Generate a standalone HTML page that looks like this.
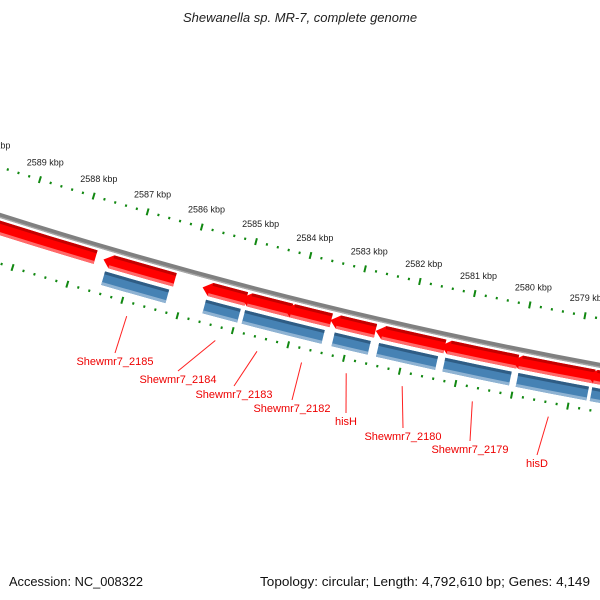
<!DOCTYPE html>
<html><head><meta charset="utf-8"><style>
html,body{margin:0;padding:0;background:#fff;}
svg{display:block;font-family:"Liberation Sans","DejaVu Sans",sans-serif;}
</style></head><body>
<svg id="chart" width="600" height="600" viewBox="0 0 600 600" xmlns="http://www.w3.org/2000/svg">
<text x="300" y="22" text-anchor="middle" font-size="13" font-style="italic" fill="#222">Shewanella sp. MR-7, complete genome</text>
<g id="ticks"></g>
<g id="backbone"></g>
<g id="red"></g>
<g id="blue"></g>
<g id="labels"></g>
<text x="9" y="586" font-size="13" fill="#111" textLength="134" lengthAdjust="spacingAndGlyphs">Accession: NC_008322</text>
<text x="590" y="586" text-anchor="end" font-size="13" fill="#111" textLength="330" lengthAdjust="spacingAndGlyphs">Topology: circular; Length: 4,792,610 bp; Genes: 4,149</text>
</svg>
<script>
// feature data (kbp)
const redStart = [2591.0, 2587.39, 2585.58, 2584.87, 2584.09, 2583.26, 2582.44, 2581.26, 2579.98, 2578.64];
const redEnd   = [2587.66, 2586.21, 2584.91, 2584.09, 2583.37, 2582.57, 2581.32, 2580.01, 2578.64, 2577.3];
const blueStart = [2587.46, 2585.62, 2584.91, 2583.29, 2582.49, 2581.30, 2579.99, 2578.67];
const blueEnd   = [2586.23, 2584.93, 2583.41, 2582.58, 2581.37, 2580.05, 2578.67, 2577.3];
const labelNames = ["Shewmr7_2185","Shewmr7_2184","Shewmr7_2183","Shewmr7_2182","hisH","Shewmr7_2180","Shewmr7_2179","hisD"];
const labelKbp = [2586.85, 2585.25, 2584.5, 2583.7, 2582.9, 2581.9, 2580.65, 2579.3];
const tickMin = 2577;
const tickMax = 2592;

const NS = "http://www.w3.org/2000/svg";
const CX = 1494, CY = -4486;
const R_OUT = 4887, R_BB = 4933, R_RED1 = 4938, R_RED2 = 4952, R_BL1 = 4956, R_BL2 = 4970, R_IN = 4979;
const labelX = [115,178,234,292,346,403,470,537];
const labelY = [365,383,398,412,425,440,453,467];
function ang(k){ return (107.31 + (k - 2589) * 0.659) * Math.PI / 180; }
function pt(r, k){ const a = ang(k); return [CX + r*Math.cos(a), CY + r*Math.sin(a)]; }
function band(r1, r2, kHi, kLo){
  const a = pt(r1, kHi), b = pt(r1, kLo), c = pt(r2, kLo), d = pt(r2, kHi);
  return `M${a[0]},${a[1]} A${r1},${r1} 0 0 0 ${b[0]},${b[1]} L${c[0]},${c[1]} A${r2},${r2} 0 0 1 ${d[0]},${d[1]} Z`;
}
function mk(tag, attrs, parent){ const e = document.createElementNS(NS, tag); for (const k in attrs) e.setAttribute(k, attrs[k]); parent.appendChild(e); return e; }

// ruler ticks
const tg = document.getElementById('ticks');
for (let i = Math.round(tickMin*5); i <= Math.round(tickMax*5); i++){
  const k = i/5, major = (i % 5 === 0);
  [R_OUT, R_IN].forEach(r => {
    const h = major ? 3.5 : 1.2;
    const p1 = pt(r-h, k), p2 = pt(r+h, k);
    const l = mk('line', {x1:p1[0], y1:p1[1], x2:p2[0], y2:p2[1], stroke:'#118811', 'stroke-width': major?2:2}, tg);
    
    
  });
  if (major){
    const p = pt(R_OUT-18, k);
    const t = mk('text', {x:p[0], y:p[1]+3, 'text-anchor':'middle', 'font-size':9, fill:'#222'}, tg);
    t.textContent = k + ' kbp';
    
    
  }
}

// backbone
const bg = document.getElementById('backbone');
const bb = mk('path', {d: band(R_BB-2.5, R_BB+2.5, 2592, 2576), fill:'#808080'}, bg);


const bb2 = mk('path', {d: band(R_BB+1.2, R_BB+2.5, 2592, 2576), fill:'#a8a8a8'}, bg);



// red arrows (pointing to higher kbp)
const rg = document.getElementById('red');
const tipK = 7/56;
for (let i = 0; i < redStart.length; i++){
  const hi = redStart[i], lo = redEnd[i];
  const g = mk('g', {}, rg);
  
  
  const a = pt(R_RED1, hi), b = pt(R_RED1, lo), c = pt(R_RED2, lo), d = pt(R_RED2, hi), tip = pt((R_RED1+R_RED2)/2, hi + tipK);
  const a2 = pt(R_RED1, hi - tipK*0.3);
  const p = mk('path', {d:`M${tip[0]},${tip[1]} L${a2[0]},${a2[1]} A${R_RED1},${R_RED1} 0 0 0 ${b[0]},${b[1]} L${c[0]},${c[1]} A${R_RED2},${R_RED2} 0 0 1 ${d[0]},${d[1]} Z`, fill:'#ff0000'}, g);
  
  
  const s1 = mk('path', {d: band(R_RED1, R_RED1+3, hi - tipK*0.3, lo), fill:'#c40000'}, g);
  
  
  const s2 = mk('path', {d: band(R_RED2-3, R_RED2, hi, lo), fill:'#ff6a6a'}, g);
  
  
}

// blue boxes
const blg = document.getElementById('blue');
for (let i = 0; i < blueStart.length; i++){
  const hi = blueStart[i] - 0.03, lo = blueEnd[i] + 0.03;
  const g = mk('g', {}, blg);
  
  
  const p = mk('path', {d: band(R_BL1, R_BL2, hi, lo), fill:'#4682b4'}, g);
  
  
  const s1 = mk('path', {d: band(R_BL1, R_BL1+3, hi, lo), fill:'#2f5d85'}, g);
  
  
  const s2 = mk('path', {d: band(R_BL2-3, R_BL2, hi, lo), fill:'#8fb3d3'}, g);
  
  
}

// labels
const lg = document.getElementById('labels');
for (let i = 0; i < labelNames.length; i++){
  const p = pt(4993, labelKbp[i]);
  const l = mk('line', {x1:p[0], y1:p[1], x2:labelX[i], y2:labelY[i]-12, stroke:'#ff2020', 'stroke-width':1}, lg);
  
  
  const t = mk('text', {x:labelX[i], y:labelY[i], 'text-anchor':'middle', 'font-size':11, fill:'#ee0000'}, lg);
  t.textContent = labelNames[i];
  
  
}
</script>
</body></html>
